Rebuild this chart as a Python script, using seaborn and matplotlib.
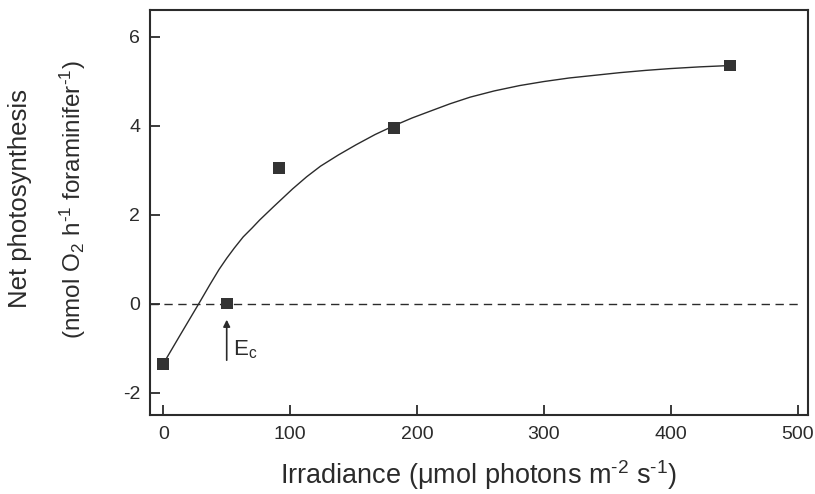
import matplotlib
matplotlib.use("Agg")
import matplotlib.pyplot as plt
import seaborn as sns
import pandas as pd

# Measured points
irradiance = [0, 50, 91, 182, 447]
net_ps = [-1.35, 0.0, 3.05, 3.95, 5.35]

# Fitted curve
curve_x = [0, 13, 28, 37, 44, 50, 56, 63, 70, 76, 87, 102, 113, 124, 138, 152, 167, 182,
           196, 210, 226, 242, 261, 281, 300, 320, 340, 360, 380, 399, 423, 447]
curve_y = [-1.35, -0.72, 0.0, 0.44, 0.77, 1.02, 1.25, 1.50, 1.70, 1.88, 2.18, 2.58, 2.85,
           3.09, 3.34, 3.57, 3.80, 4.00, 4.17, 4.32, 4.49, 4.64, 4.78, 4.90, 4.99, 5.07,
           5.13, 5.19, 5.24, 5.28, 5.32, 5.35]

x_ticks = [0, 100, 200, 300, 400, 500]
y_ticks = [-2, 0, 2, 4, 6]
ec_value = 50

sns.set_theme(style="ticks")
plt.rcParams['font.family'] = ['Liberation Sans', 'DejaVu Sans']
plt.rcParams['mathtext.fontset'] = 'custom'
plt.rcParams['mathtext.rm'] = 'Liberation Sans'
plt.rcParams['mathtext.it'] = 'Liberation Sans:italic'
plt.rcParams['axes.unicode_minus'] = False

ink = '#2b2b2b'
fig = plt.figure(figsize=(8.15, 4.94), dpi=100)
ax = fig.add_axes([0.184, 0.16, 0.807, 0.82])

pts = pd.DataFrame({'x': irradiance, 'y': net_ps})
crv = pd.DataFrame({'x': curve_x, 'y': curve_y})

ax.axhline(0, xmin=0, xmax=0.99, color=ink, lw=1.0, ls=(0, (6, 4)), zorder=1)
sns.lineplot(data=crv, x='x', y='y', ax=ax, color=ink, lw=1.0, sort=False, zorder=2)
sns.scatterplot(data=pts, x='x', y='y', ax=ax, marker='s', s=70, color='#333333',
                edgecolor='none', zorder=3)

ax.annotate('', xy=(ec_value, -0.36), xytext=(ec_value, -1.27),
            arrowprops=dict(arrowstyle='-|>', color=ink, lw=1.2, mutation_scale=10,
                            shrinkA=0, shrinkB=0))
ax.text(ec_value + 5, -1.04, r'E$_\mathregular{c}$', fontsize=16, color=ink,
        ha='left', va='center')

ax.set_xlim(-10.5, 508)
ax.set_ylim(-2.5, 6.6)
ax.set_xticks(x_ticks)
ax.set_yticks(y_ticks)
ax.tick_params(direction='in', length=7.5, width=1.3, colors=ink, labelsize=14, pad=8)
ax.tick_params(axis='y', pad=7)
for s in ax.spines.values():
    s.set_color(ink)
    s.set_linewidth(1.5)

ax.set_xlabel(r'Irradiance (μmol photons m$^{\text{-2}}$ s$^{\text{-1}}$)',
              fontsize=19.5, color=ink, labelpad=11)
ax.set_ylabel('')
fig.text(20 / 815, 1 - 198 / 494, 'Net photosynthesis', rotation=90, fontsize=18.5,
         color=ink, ha='center', va='center')
fig.text(73 / 815, 1 - 200 / 494,
         r'(nmol O$_\mathregular{2}$ h$^{\text{-1}}$ foraminifer$^{\text{-1}}$)',
         rotation=90, fontsize=17.5, color=ink, ha='center', va='center')

fig.savefig('out.png', dpi=100)
